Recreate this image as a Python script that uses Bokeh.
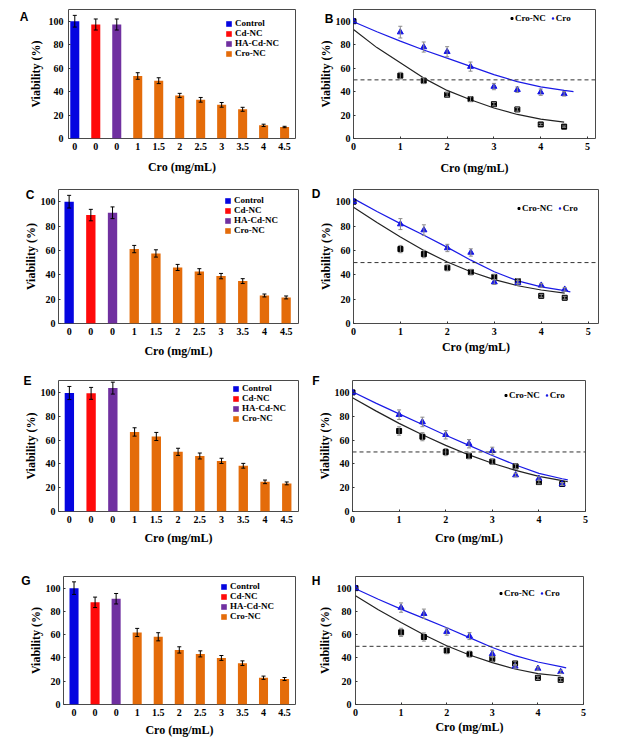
from bokeh.plotting import figure
from bokeh.models import (ColumnDataSource, Whisker, TeeHead, Span, Legend, LegendItem,
                          LinearAxis, FixedTicker, Range1d)
from bokeh.layouts import column, row
from bokeh.embed import file_html
from bokeh.resources import INLINE

SERIF = "Liberation Serif"
SANS = "Liberation Sans"

# ---------------- data ----------------
bar_tick_labels = ["0", "0", "0", "1", "1.5", "2", "2.5", "3", "3.5", "4", "4.5"]
bar_groups = ["Control", "Cd-NC", "HA-Cd-NC", "Cro-NC", "Cro-NC", "Cro-NC", "Cro-NC",
              "Cro-NC", "Cro-NC", "Cro-NC", "Cro-NC"]
group_names = ["Control", "Cd-NC", "HA-Cd-NC", "Cro-NC"]
group_colors = ["#0505e0", "#ff0a0a", "#7030a0", "#e46c0a"]

A_viab = [100, 97.2, 97.2, 53.3, 49.3, 36.7, 33.0, 28.7, 24.9, 11.2, 9.8]
A_err = [5.0, 4.7, 4.7, 2.8, 2.5, 1.8, 2.0, 2.0, 1.7, 1.0, 0.6]
C_viab = [100, 89.0, 90.9, 61.1, 57.5, 46.0, 42.7, 38.9, 34.8, 23.0, 21.4]
C_err = [5.2, 4.7, 4.8, 3.0, 3.0, 2.5, 2.3, 2.2, 2.0, 1.2, 1.2]
E_viab = [99.5, 99.2, 103.6, 66.8, 63.0, 50.1, 46.6, 42.5, 38.4, 24.9, 23.6]
E_err = [5.5, 5.0, 5.0, 3.5, 3.4, 3.0, 2.5, 2.2, 2.0, 1.5, 1.2]
G_viab = [100, 87.8, 90.9, 61.9, 58.2, 46.9, 43.5, 40.0, 35.5, 23.0, 21.9]
G_err = [5.4, 4.5, 4.5, 3.5, 3.5, 2.7, 2.6, 2.1, 2.0, 1.4, 1.3]

conc = [0, 1, 1.5, 2, 2.5, 3, 3.5, 4, 4.5]
B_cronc = [100, 53.6, 49.3, 37.3, 33.6, 29.3, 24.8, 12.0, 10.1]
B_cronc_err = [0, 2.8, 2.5, 1.8, 2.0, 1.5, 1.5, 1.0, 0.6]
B_cro = [100, 90.7, 78.0, 74.0, 61.3, 44.3, 41.6, 39.5, 38.1]
B_cro_err = [0, 5.0, 4.3, 4.3, 3.9, 2.7, 2.3, 2.7, 1.9]
D_cronc = [100, 61.1, 57.0, 45.7, 42.2, 38.2, 34.8, 22.7, 21.1]
D_cronc_err = [0, 3.0, 3.0, 2.5, 2.3, 2.2, 2.0, 1.2, 1.2]
D_cro = [100, 81.6, 76.7, 62.0, 58.3, 34.0, 33.4, 31.3, 28.0]
D_cro_err = [0, 4.5, 4.3, 3.0, 3.0, 2.0, 2.0, 1.6, 1.5]
F_cronc = [100, 67.6, 62.8, 49.9, 46.7, 41.9, 37.9, 24.7, 23.1]
F_cronc_err = [0, 3.5, 3.4, 3.0, 2.5, 2.2, 2.0, 1.5, 1.2]
F_cro = [100, 81.3, 75.2, 64.4, 56.9, 51.0, 30.6, 27.7, 23.1]
F_cro_err = [0, 4.0, 4.0, 3.5, 3.5, 3.0, 1.5, 1.5, 1.2]
H_cronc = [100, 62.0, 58.0, 46.3, 43.3, 39.2, 35.3, 22.9, 21.2]
H_cronc_err = [0, 3.5, 3.5, 2.7, 2.6, 2.1, 2.0, 1.4, 1.3]
H_cro = [100, 83.3, 78.0, 62.6, 58.8, 43.6, 32.8, 30.9, 28.1]
H_cro_err = [0, 4.0, 4.0, 3.0, 3.0, 3.0, 1.5, 1.5, 1.5]

# fitted curves
fit_x_45 = [0, 0.5, 1, 1.5, 2, 2.5, 3, 3.5, 4, 4.5]
fit_x_47 = [0, 0.5, 1, 1.5, 2, 2.5, 3, 3.5, 4, 4.5, 4.7]
fit_x_462 = [0, 0.5, 1, 1.5, 2, 2.5, 3, 3.5, 4, 4.5, 4.62]
B_fit_cronc = [93, 77.5, 64.5, 51.5, 41, 33, 26, 20.5, 16.5, 14]
B_fit_cro = [99.5, 91, 83, 75.5, 68.5, 61.5, 54.5, 48.5, 44, 41, 40]
D_fit_cronc = [95.5, 83, 71, 60, 50.5, 42.5, 36, 31, 27.5, 25]
D_fit_cro = [102.5, 92, 82, 72.5, 62.5, 52, 42.5, 35, 30, 27, 26]
F_fit_cronc = [95.5, 84.5, 74, 64.5, 55.5, 47.5, 40.5, 34.5, 29.5, 26, 25]
F_fit_cro = [100.5, 91, 82, 73, 64, 55.5, 47, 39, 32, 27.5, 26.5]
H_fit_cronc = [93.5, 81.5, 70.5, 60, 50.5, 42.5, 36, 30.5, 26.5, 24.5]
H_fit_cro = [99.5, 90.5, 82, 74, 66, 57.5, 49, 42, 36.5, 32.5, 31.5]

y_ticks = [0, 20, 40, 60, 80, 100]
x_ticks_line = [0, 1, 2, 3, 4, 5]
half_line = 50
Y_RANGE = (0, 110)


def base_fig(x0, y0, W, H, frame, xr, yr):
    L, T, R, B = frame
    fl, ft = L - x0, T - y0
    fw, fh = R - L, B - T
    p = figure(width=W, height=H, min_border_left=fl, min_border_top=ft,
               min_border_right=W - fl - fw, min_border_bottom=H - ft - fh,
               x_range=Range1d(*xr), y_range=Range1d(*yr),
               output_backend="svg", toolbar_location=None)
    p.outline_line_color = "#4a4a4a"
    p.outline_line_width = 1
    p.grid.visible = False
    p.background_fill_color = "white"
    p.border_fill_color = "white"
    return p


def style_axes(p, xs, xals, ys, yals):
    for ax in (p.xaxis[0], p.yaxis[0]):
        ax.axis_line_color = None
        ax.minor_tick_line_color = None
        ax.major_tick_out = 0
        ax.major_tick_in = 2
        ax.major_tick_line_color = "#333333"
        ax.major_label_text_font = SERIF
        ax.major_label_text_font_style = "bold"
        ax.major_label_text_font_size = "10px"
        ax.major_label_text_color = "black"
        ax.axis_label_text_font = SERIF
        ax.axis_label_text_font_style = "bold"
        ax.axis_label_text_font_size = "12px"
        ax.axis_label_text_color = "black"
    p.xaxis[0].major_label_standoff = xs
    p.xaxis[0].axis_label_standoff = xals
    p.yaxis[0].major_label_standoff = ys
    p.yaxis[0].axis_label_standoff = yals
    p.xaxis[0].axis_label = "Cro (mg/mL)"
    p.yaxis[0].axis_label = "Viability (%)"
    p.yaxis[0].ticker = FixedTicker(ticks=y_ticks)


def add_letter(p, frame, letter, pos, ys, yals, dx):
    # panel letter drawn as the only label of an extra, line-less left axis
    L, T, R, B = frame
    p.extra_y_ranges = {"letter": Range1d(0, B - T)}
    outer = L - (ys + yals + 32)
    standoff = int(round(outer - (pos[0] + 9) - dx))
    tick = int(round(B - pos[1]))
    ax = LinearAxis(y_range_name="letter", ticker=FixedTicker(ticks=[tick]),
                    major_label_overrides={tick: letter}, axis_line_color=None,
                    major_tick_line_color=None, minor_tick_line_color=None,
                    major_tick_in=0, major_tick_out=0, major_label_standoff=standoff,
                    major_label_text_font=SANS, major_label_text_font_style="bold",
                    major_label_text_font_size="12px", major_label_text_color="black")
    p.add_layout(ax, "left")


def bar_panel(letter, vals, errs, x0, y0, W, H, frame, xr, leg, lpos, stand, dx):
    p = base_fig(x0, y0, W, H, frame, xr, Y_RANGE)
    L, T, R, B = frame
    colors = [group_colors[group_names.index(g)] for g in bar_groups]
    idx = list(range(len(vals)))
    src = ColumnDataSource(dict(x=idx, top=vals, color=colors,
                                upper=[v + e for v, e in zip(vals, errs)],
                                lower=[v - e for v, e in zip(vals, errs)]))
    r = p.vbar(x="x", top="top", width=0.43, bottom=0, fill_color="color",
               line_color=None, source=src)
    p.add_layout(Whisker(source=src, base="x", upper="upper", lower="lower",
                         line_color="black", line_width=1, level="overlay",
                         upper_head=TeeHead(size=4, line_color="black", line_width=1),
                         lower_head=TeeHead(size=4, line_color="black", line_width=1)))
    style_axes(p, *stand)
    p.xaxis[0].ticker = FixedTicker(ticks=idx)
    p.xaxis[0].major_label_overrides = {i: t for i, t in zip(idx, bar_tick_labels)}
    p.xaxis[0].major_tick_in = 0
    items = [LegendItem(label=g, renderers=[r], index=bar_groups.index(g)) for g in group_names]
    lg = Legend(items=items, location=(leg[0] - L, B - leg[1] - 35),
                glyph_width=7, glyph_height=7, label_height=9, spacing=0,
                label_standoff=3, padding=0, margin=0, border_line_color=None,
                background_fill_alpha=0, label_text_font=SERIF,
                label_text_font_style="bold", label_text_font_size="9px",
                label_text_color="black")
    p.add_layout(lg)
    add_letter(p, frame, letter, lpos, stand[2], stand[3], dx)
    return p


def line_panel(letter, nc, nc_err, cro, cro_err, fx_nc, f_nc, fx_cro, f_cro,
               x0, y0, W, H, frame, xr, leg, lpos, stand, dx):
    p = base_fig(x0, y0, W, H, frame, xr, Y_RANGE)
    L, T, R, B = frame
    p.add_layout(Span(location=half_line, dimension="width", line_color="#333333",
                      line_width=1, line_dash="4 3"))
    p.line(fx_nc, f_nc, line_color="#222222", line_width=1.2)
    p.line(fx_cro, f_cro, line_color="#1a1ae6", line_width=1.2)
    for vals, errs in ((nc, nc_err), (cro, cro_err)):
        xs = [c for c, e in zip(conc, errs) if e > 0]
        up = [v + e for v, e in zip(vals, errs) if e > 0]
        lo = [v - e for v, e in zip(vals, errs) if e > 0]
        s = ColumnDataSource(dict(x=xs, upper=up, lower=lo))
        p.add_layout(Whisker(source=s, base="x", upper="upper", lower="lower",
                             line_color="#8a8a8a", line_width=1, level="overlay",
                             upper_head=TeeHead(size=4, line_color="#8a8a8a", line_width=1),
                             lower_head=TeeHead(size=4, line_color="#8a8a8a", line_width=1)))
    r1 = p.scatter(conc, nc, marker="square", size=5, color="black")
    r2 = p.scatter(conc, cro, marker="triangle", size=6, color="#1414e6")
    style_axes(p, *stand)
    p.xaxis[0].ticker = FixedTicker(ticks=x_ticks_line)
    lg = Legend(items=[LegendItem(label="Cro-NC", renderers=[r1]),
                       LegendItem(label="Cro", renderers=[r2])],
                orientation="horizontal", location=(leg[0] - L, B - leg[1] - 9),
                glyph_width=5, glyph_height=6, label_height=9, spacing=4,
                label_standoff=1, padding=0, margin=0, border_line_color=None,
                background_fill_alpha=0, label_text_font=SERIF,
                label_text_font_style="bold", label_text_font_size="9px",
                label_text_color="black")
    p.add_layout(lg)
    add_letter(p, frame, letter, lpos, stand[2], stand[3], dx)
    return p


# panel layout: figure origin (x0, y0), size, frame box (left, top, right, bottom)
pA = bar_panel("A", A_viab, A_err, 0, 0, 308, 185, (68, 9, 295, 138), (-0.3, 10.52),
               (225, 23), (22, 16), (4, 7, 5, 3), 0)
pC = bar_panel("C", C_viab, C_err, 0, 185, 308, 185, (58, 189, 298, 323), (-0.49, 10.57),
               (224, 200), (25, 194), (4, 6, 3, 0), 3)
pE = bar_panel("E", E_viab, E_err, 0, 370, 308, 185, (58, 378, 298, 511), (-0.5, 10.54),
               (232, 388), (24, 379), (4, 5, 3, 0), 1)
pG = bar_panel("G", G_viab, G_err, 0, 555, 308, 189, (63, 575, 295, 704), (-0.5, 10.52),
               (220, 586), (22, 580), (4, 4, 3, 0), 2)

pB = line_panel("B", B_cronc, B_cronc_err, B_cro, B_cro_err, fit_x_45, B_fit_cronc,
                fit_x_47, B_fit_cro, 308, 0, 308, 185, (353, 5, 595, 143), (0, 5.17),
                (509, 19), (331, 15), (4, 8, 3, 0), -4)
pD = line_panel("D", D_cronc, D_cronc_err, D_cro, D_cro_err, fit_x_45, D_fit_cronc,
                fit_x_462, D_fit_cro, 308, 185, 308, 185, (352, 189, 598, 327), (0, 5.22),
                (515, 208), (313, 194), (4, 2, 3, 0), 0)
pF = line_panel("F", F_cronc, F_cronc_err, F_cro, F_cro_err, fit_x_462, F_fit_cronc,
                fit_x_462, F_fit_cro, 308, 370, 308, 185, (352, 380, 585, 517), (0, 5),
                (503, 397), (313, 381), (4, 5, 3, 0), 0)
pH = line_panel("H", H_cronc, H_cronc_err, H_cro, H_cro_err, fit_x_45, H_fit_cronc,
                fit_x_462, H_fit_cro, 308, 555, 308, 189, (351, 576, 583, 707), (0, 5),
                (494, 592), (310, 581), (4, 1, 4, 2), 0)

layout = column(row(pA, pB), row(pC, pD), row(pE, pF), row(pG, pH))
open("out.html", "w").write(file_html(layout, INLINE))
